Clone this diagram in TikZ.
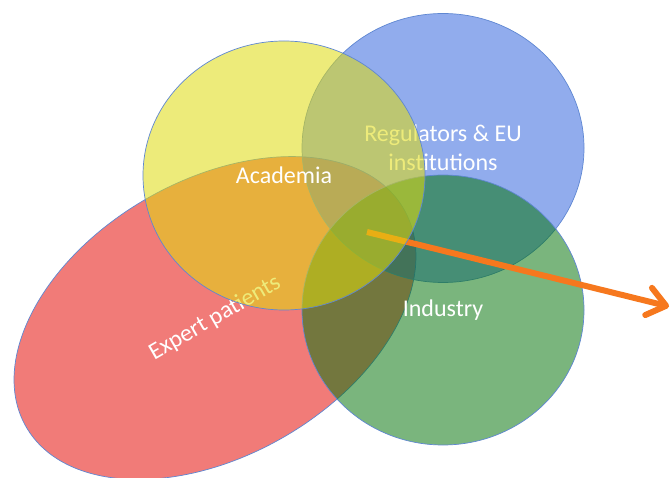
\documentclass[tikz,border=0pt]{standalone}
\usepackage{fontspec}
\setmainfont{Carlito}
\usetikzlibrary{shapes.geometric,arrows.meta}
\definecolor{redbase}{RGB}{233,35,30}
\definecolor{bluebase}{RGB}{56,105,224}
\definecolor{greenbase}{RGB}{4,117,11}
\definecolor{yellowbase}{RGB}{224,220,13}
\definecolor{arroworange}{RGB}{246,120,30}
\definecolor{edgeblue}{RGB}{95,135,210}
\begin{document}
\begin{tikzpicture}[x=1pt,y=-1pt,
  blob/.style={ellipse, inner sep=0pt, outer sep=0pt, draw=edgeblue, line width=0.7pt,
    text=white, text opacity=1, font=\fontsize{24}{29}\selectfont, align=center},
  flow/.style={arroworange, line width=6pt, -{Straight Barb[length=18pt,width=28pt,round]}}
]
\fill[white] (0,0) rectangle (672,478);
\useasboundingbox (0,0) rectangle (672,478);
\node[blob, fill=redbase, fill opacity=0.6, minimum width=436pt, minimum height=275pt, rotate=30] (patients) at (215,318) {Expert patients};
\node[blob, fill=bluebase, fill opacity=0.55, minimum width=282pt, minimum height=269pt] (regulators) at (443,148) {Regulators \& EU\\institutions};
\node[blob, fill=greenbase, fill opacity=0.53, minimum width=282pt, minimum height=270pt] (industry) at (443,310) {Industry};
\coordinate (arrowstart) at (367,232);
\coordinate (arrowend) at (669,306.5);
\draw[flow] (arrowstart) -- (arrowend);
\node[blob, fill=yellowbase, fill opacity=0.55, minimum width=282pt, minimum height=269pt] (academia) at (284,175.5) {Academia};
\end{tikzpicture}
\end{document}
